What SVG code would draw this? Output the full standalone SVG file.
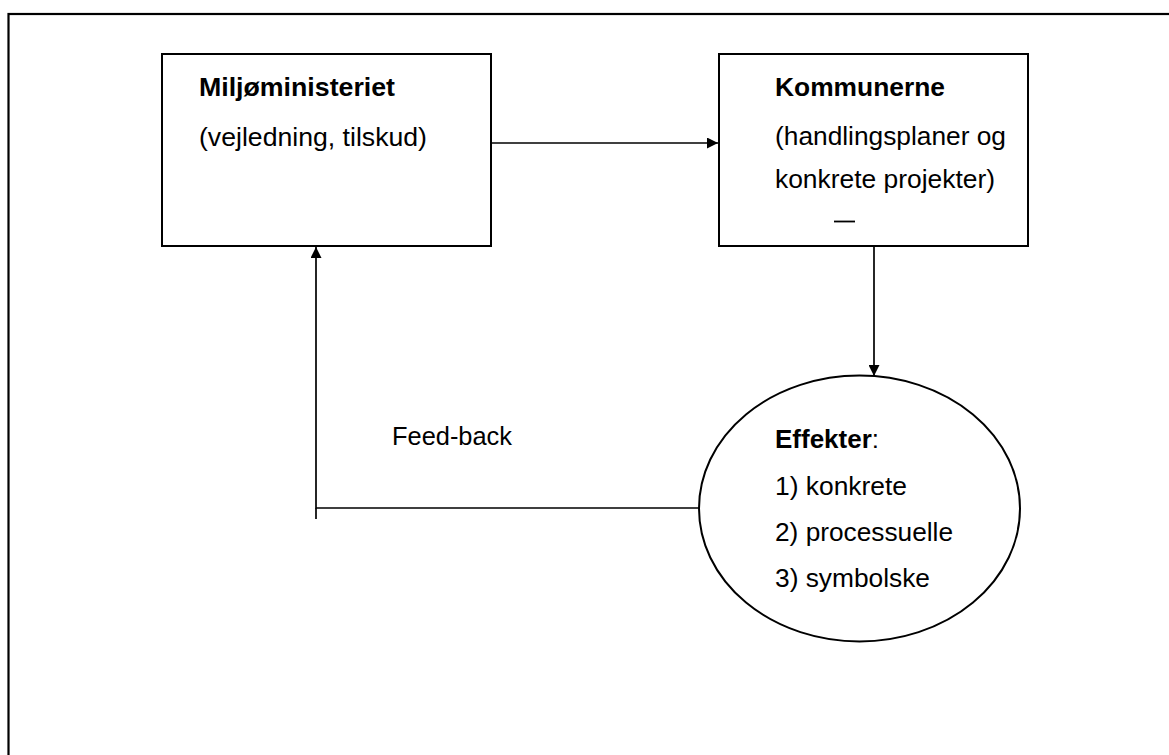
<svg xmlns="http://www.w3.org/2000/svg" width="1169" height="755" viewBox="0 0 1169 755">
<style>
.box{fill:#fff;stroke:#000;stroke-width:2}
.con{fill:none;stroke:#000;stroke-width:1.7}
text{font-family:"Liberation Sans",Arial,sans-serif;font-size:25px;fill:#000}
.b{font-weight:bold}
</style>
<defs>
<marker id="ah" viewBox="0 0 10 10" refX="10" refY="5" markerWidth="11" markerHeight="11" orient="auto" markerUnits="userSpaceOnUse">
<path d="M0,0 L10,5 L0,10 z" fill="#000"/>
</marker>
</defs>
<rect x="0" y="0" width="1169" height="755" fill="#fff"/>
<rect id="frame" x="8.5" y="14" width="1200" height="800" fill="none" stroke="#000" stroke-width="2.2"/>
<g id="connectors">
<line class="con" x1="491" y1="143" x2="718" y2="143" marker-end="url(#ah)"/>
<line class="con" x1="874" y1="247" x2="874" y2="376" marker-end="url(#ah)"/>
<polyline class="con" points="699,508 316,508 316,247" marker-end="url(#ah)"/>
<line class="con" x1="316" y1="508" x2="316" y2="519"/>
</g>
<g id="miljoministeriet">
<rect class="box" x="162" y="54" width="329" height="192"/>
<text class="b" x="199" y="96" textLength="196" lengthAdjust="spacingAndGlyphs">Miljøministeriet</text>
<text x="199" y="146" textLength="228" lengthAdjust="spacingAndGlyphs">(vejledning, tilskud)</text>
</g>
<g id="kommunerne">
<rect class="box" x="719" y="54" width="309" height="192"/>
<text class="b" x="775" y="96" textLength="170" lengthAdjust="spacingAndGlyphs">Kommunerne</text>
<text x="775" y="145" textLength="231" lengthAdjust="spacingAndGlyphs">(handlingsplaner og</text>
<text x="775" y="188" textLength="220" lengthAdjust="spacingAndGlyphs">konkrete projekter)</text>
<line x1="834" y1="221.5" x2="855" y2="221.5" stroke="#000" stroke-width="1.8"/>
</g>
<g id="effekter">
<ellipse cx="859.5" cy="508.5" rx="160.5" ry="133" fill="#fff" stroke="#000" stroke-width="2"/>
<text x="775" y="448" textLength="104" lengthAdjust="spacingAndGlyphs"><tspan class="b">Effekter</tspan>:</text>
<text x="775" y="495" textLength="132" lengthAdjust="spacingAndGlyphs">1) konkrete</text>
<text x="775" y="541" textLength="178" lengthAdjust="spacingAndGlyphs">2) processuelle</text>
<text x="775" y="587" textLength="155" lengthAdjust="spacingAndGlyphs">3) symbolske</text>
</g>
<g id="feedback-label">
<text x="392" y="445" textLength="120" lengthAdjust="spacingAndGlyphs">Feed-back</text>
</g>
</svg>
